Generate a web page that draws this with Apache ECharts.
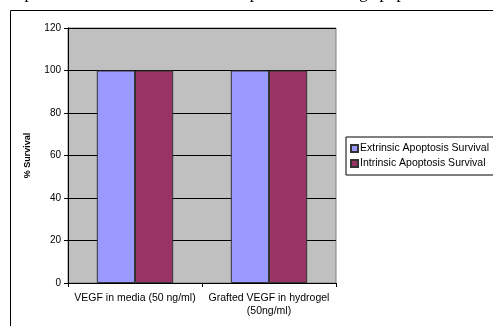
<!DOCTYPE html>
<html>
<head>
<meta charset="utf-8">
<script src="https://cdn.jsdelivr.net/npm/echarts@6/dist/echarts.min.js"></script>
<style>html,body{margin:0;padding:0;background:#fff;overflow:hidden}#c{width:493px;height:326px}</style>
</head>
<body>
<div id="c"></div>
<script>
const categories = ['VEGF in media (50 ng/ml)', 'Grafted VEGF in hydrogel\n(50ng/ml)'];
const seriesNames = ['Extrinsic Apoptosis Survival', 'Intrinsic Apoptosis Survival'];
const extrinsic = [100, 100];
const intrinsic = [100, 100];
const yTicks = { min: 0, max: 120, interval: 20 };
const headerText = 'Suspended VEGF in media was compared at inducing apoptosis s';

const chart = echarts.init(document.getElementById('c'), null, { renderer: 'canvas' });
const font = 'Arial, "Liberation Sans", sans-serif';
chart.setOption({
  animation: false,
  backgroundColor: '#fff',
  graphic: [
    { type: 'rect', shape: { x: 10.5, y: 10.5, width: 520, height: 340 }, style: { fill: 'none', stroke: '#000', lineWidth: 1 }, z: 0 },
    { type: 'text', x: 0, y: 2, style: { text: headerText, font: '17px "Liberation Serif", "Times New Roman", serif', fill: '#000', verticalAlign: 'bottom', align: 'left' } }
  ],
  grid: { left: 68, right: 157, top: 28, bottom: 43, show: true, backgroundColor: '#c0c0c0', borderColor: '#808080', borderWidth: 1 },
  legend: {
    orient: 'vertical', left: 346, top: 137, itemGap: 4, itemWidth: 7, itemHeight: 7,
    icon: 'rect', padding: [6, 6, 6, 4], borderColor: '#000', borderWidth: 1, backgroundColor: '#fff',
    textStyle: { fontFamily: font, fontSize: 10.5, color: '#000', padding: [0, 0, 0, -3] },
    data: seriesNames
  },
  xAxis: {
    type: 'category', data: categories,
    axisLine: { lineStyle: { color: '#000', width: 1 } },
    axisTick: { show: true, alignWithLabel: false, length: 4, lineStyle: { color: '#000' } },
    axisLabel: { interval: 0, fontFamily: font, fontSize: 10.5, color: '#000', margin: 9, lineHeight: 13 }
  },
  yAxis: {
    type: 'value', min: yTicks.min, max: yTicks.max, interval: yTicks.interval,
    name: '% Survival', nameLocation: 'middle', nameGap: 36, nameRotate: 90,
    nameTextStyle: { fontFamily: font, fontSize: 9, fontWeight: 'bold', color: '#000' },
    axisLine: { show: true, lineStyle: { color: '#000', width: 1 } },
    axisTick: { show: true, length: 4, lineStyle: { color: '#000' } },
    axisLabel: { fontFamily: font, fontSize: 10, color: '#000', margin: 7 },
    splitLine: { show: true, lineStyle: { color: '#000', width: 1 } }
  },
  series: [
    { name: seriesNames[0], type: 'bar', data: extrinsic, barGap: '0%', barCategoryGap: '43%',
      itemStyle: { color: '#9999ff', borderColor: '#333', borderWidth: 1 } },
    { name: seriesNames[1], type: 'bar', data: intrinsic, barGap: '0%', barCategoryGap: '43%',
      itemStyle: { color: '#993366', borderColor: '#333', borderWidth: 1 } }
  ]
});
</script>
</body>
</html>
